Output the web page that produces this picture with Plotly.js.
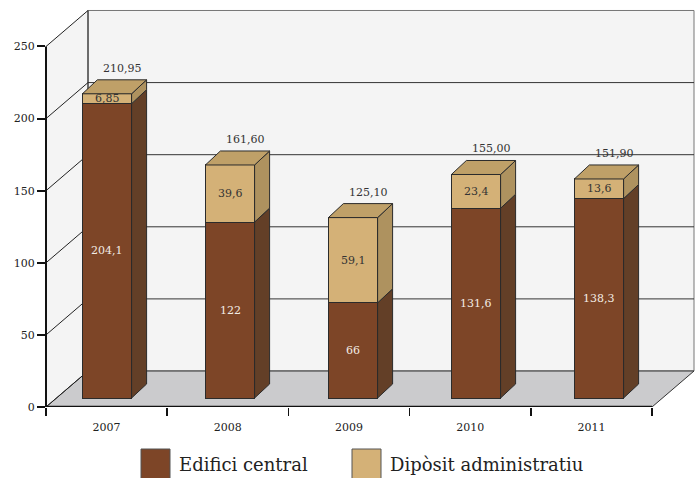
<!DOCTYPE html>
<html><head><meta charset="utf-8">
<script src="https://cdn.plot.ly/plotly-3.0.1.min.js"></script>
<style>html,body{margin:0;padding:0;background:#fff}</style>
</head><body>
<div id="chart" style="width:700px;height:478px"></div>
<script>
// ---- data ----
const years = ['2007', '2008', '2009', '2010', '2011'];
const edificiCentral = [204.1, 122, 66, 131.6, 138.3];
const dipositAdministratiu = [6.85, 39.6, 59.1, 23.4, 13.6];
const totals = [210.95, 161.60, 125.10, 155.00, 151.90];
const seriesNames = ['Edifici central', 'Dipòsit administratiu'];
const yTickVals = [0, 50, 100, 150, 200, 250];

// ---- styles / geometry ----
const W = 700, H = 478;
const M = {l: 46, r: 6, t: 9, b: 71};
const PW = W - M.l - M.r, PH = H - M.t - M.b;
const YMAX = 276;                   // y range of front frame
const pxPerY = PH / YMAX;
const FONT = 'DejaVu Serif';
const brown = {front: '#7d4527', side: '#633f27', top: '#8a5a3a'};
const tan = {front: '#d4b177', side: '#ae925f', top: '#bfa068'};
const edge = '#2b2b2b';

// frame depth (paper x, y data units)
const DXP = 42 / PW, DYU = 36 / pxPerY;
const frontRight = (years.length * 121.2) / PW;
// bar axis (x2/y2): bars' front face lies a bit into the depth
const BAR_PX = 123, BAR0 = 107;
const x2range = [-(BAR0 - M.l) / BAR_PX, -(BAR0 - M.l) / BAR_PX + PW / BAR_PX];
const y2shift = 9 / pxPerY;
const y2range = [-y2shift, YMAX - y2shift];
const BW = 0.4;
const bdx = 15 / BAR_PX, bdy = 14 / pxPerY;

const shapes = [];
const annotations = [];
const fmt = v => String(v).replace('.', ',');
const fmt2 = v => v.toFixed(2).replace('.', ',');

// side wall, back wall, floor
shapes.push({type: 'path', xref: 'paper', yref: 'y', layer: 'below',
  path: `M0,0 L${DXP},${DYU} L${DXP},${250 + DYU} L0,250 Z`,
  fillcolor: '#f4f4f4', line: {width: 0}});
shapes.push({type: 'rect', xref: 'paper', yref: 'y', layer: 'below',
  x0: DXP, x1: 1, y0: DYU, y1: 250 + DYU, fillcolor: '#f4f4f4', line: {color: '#777', width: 1}});
shapes.push({type: 'path', xref: 'paper', yref: 'y', layer: 'below',
  path: `M0,0 L${DXP},${DYU} L1,${DYU} L${frontRight},0 Z`,
  fillcolor: '#cbcbcd', line: {color: '#333', width: 1}});
// gridlines on walls
yTickVals.forEach(v => {
  if (v > 0 && v < 250) {
    shapes.push({type: 'line', xref: 'paper', yref: 'y', layer: 'below',
      x0: DXP, x1: 1, y0: v + DYU, y1: v + DYU, line: {color: '#333', width: 1}});
  }
  shapes.push({type: 'line', xref: 'paper', yref: 'y', layer: 'below',
    x0: 0, x1: DXP, y0: v, y1: v + DYU, line: {color: '#222', width: 1}});
});
shapes.push({type: 'line', xref: 'paper', yref: 'y', layer: 'below',
  x0: DXP, x1: DXP, y0: DYU, y1: 250 + DYU, line: {color: '#222', width: 1}});
// front axis lines
shapes.push({type: 'line', xref: 'paper', yref: 'y', layer: 'above',
  x0: 0, x1: 0, y0: 0, y1: 250, line: {color: '#111', width: 2}});
shapes.push({type: 'line', xref: 'paper', yref: 'y', layer: 'above',
  x0: 0, x1: frontRight, y0: 0, y1: 0, line: {color: '#111', width: 2.5}});

// 3D faces of bars
years.forEach((yr, i) => {
  const segs = [
    {b: 0, t: edificiCentral[i], c: brown, v: edificiCentral[i], tc: '#f3ece4'},
    {b: edificiCentral[i], t: edificiCentral[i] + dipositAdministratiu[i], c: tan, v: dipositAdministratiu[i], tc: '#333'}
  ];
  const xr = i + BW / 2, xl = i - BW / 2;
  segs.forEach(s => {
    shapes.push({type: 'path', xref: 'x2', yref: 'y2', layer: 'above',
      path: `M${xr},${s.b} L${xr + bdx},${s.b + bdy} L${xr + bdx},${s.t + bdy} L${xr},${s.t} Z`,
      fillcolor: s.c.side, line: {color: edge, width: 1}});
    annotations.push({xref: 'x2', yref: 'y2', x: i, y: (s.b + s.t) / 2, text: fmt(s.v),
      showarrow: false, font: {family: FONT, size: 11, color: s.tc}});
  });
  const top = totals[i];
  shapes.push({type: 'path', xref: 'x2', yref: 'y2', layer: 'above',
    path: `M${xl},${top} L${xl + bdx},${top + bdy} L${xr + bdx},${top + bdy} L${xr},${top} Z`,
    fillcolor: tan.top, line: {color: edge, width: 1}});
  annotations.push({xref: 'x2', yref: 'y2', x: i + bdx, y: top + bdy, yanchor: 'bottom', yshift: 3,
    text: fmt2(totals[i]), showarrow: false, font: {family: FONT, size: 11, color: '#333'}});
});

// legend (custom large swatches)
const px2x = px => (px - M.l) / PW;
const px2y = py => (H - M.b - py) / PH;
const legendItems = [
  {name: seriesNames[0], color: brown.front, sx: 141, tx: 177},
  {name: seriesNames[1], color: tan.front, sx: 352, tx: 388}
];
legendItems.forEach(it => {
  shapes.push({type: 'rect', xref: 'paper', yref: 'paper', x0: px2x(it.sx), x1: px2x(it.sx + 29),
    y0: px2y(478.5), y1: px2y(449), fillcolor: it.color, line: {color: '#555', width: 1}});
  annotations.push({xref: 'paper', yref: 'paper', x: px2x(it.tx), y: px2y(464), xanchor: 'left',
    yanchor: 'middle', text: it.name, showarrow: false, font: {family: FONT, size: 18, color: '#222'}});
});

const traces = [
  {type: 'scatter', x: years, y: years.map(() => null), xaxis: 'x', yaxis: 'y',
    showlegend: false, hoverinfo: 'skip', mode: 'markers'},
  {type: 'bar', name: seriesNames[0], x: years.map((_, i) => i), y: edificiCentral,
    xaxis: 'x2', yaxis: 'y2', width: BW, marker: {color: brown.front, line: {color: edge, width: 1}},
    showlegend: false, hoverinfo: 'skip'},
  {type: 'bar', name: seriesNames[1], x: years.map((_, i) => i), y: dipositAdministratiu,
    xaxis: 'x2', yaxis: 'y2', width: BW, marker: {color: tan.front, line: {color: edge, width: 1}},
    showlegend: false, hoverinfo: 'skip'}
];

const layout = {
  width: W, height: H, margin: M,
  paper_bgcolor: '#fff', plot_bgcolor: 'rgba(0,0,0,0)',
  barmode: 'stack', showlegend: false,
  font: {family: FONT, size: 11, color: '#222'},
  xaxis: {type: 'category', range: [-0.5, -0.5 + PW / 121.2], tickson: 'boundaries',
    ticks: 'outside', ticklen: 8, tickwidth: 1.5, tickcolor: '#111', ticklabelstandoff: 12,
    showgrid: false, zeroline: false, showline: false, fixedrange: true,
    tickfont: {family: FONT, size: 11, color: '#222'}},
  yaxis: {range: [0, YMAX], tickvals: yTickVals, ticks: 'outside', ticklen: 8, tickwidth: 2,
    tickcolor: '#111', showgrid: false, zeroline: false, showline: false, fixedrange: true,
    tickfont: {family: FONT, size: 11, color: '#222'}},
  xaxis2: {overlaying: 'x', range: x2range, visible: false, fixedrange: true},
  yaxis2: {overlaying: 'y', range: y2range, visible: false, fixedrange: true},
  shapes: shapes, annotations: annotations
};

Plotly.newPlot('chart', traces, layout, {displayModeBar: false, staticPlot: true});
</script>
</body></html>
